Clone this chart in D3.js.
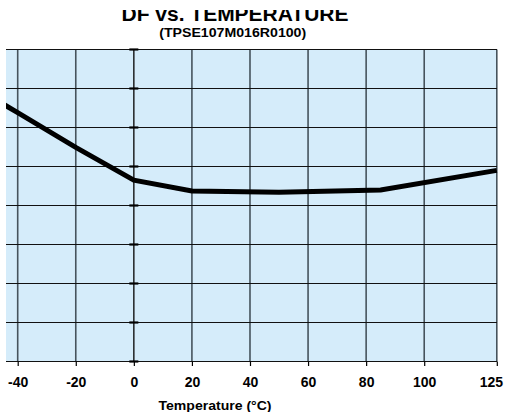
<!DOCTYPE html>
<html>
<head>
<meta charset="utf-8">
<script src="https://cdn.jsdelivr.net/npm/d3@7"></script>
<style>
  html, body { margin: 0; padding: 0; background: #fff; }
  svg { display: block; }
  text { font-family: "Liberation Sans", Arial, Helvetica, sans-serif; font-weight: bold; fill: #000; }
</style>
</head>
<body>
<svg id="chart" width="506" height="412"></svg>
<script>
// ---- data ----
const temperatures = [-55, -40, -20, 0, 20, 50, 85, 125];
const dfValues     = [7.04, 6.38, 5.49, 4.65, 4.37, 4.34, 4.40, 4.90];
const xTickValues  = [-40, -20, 0, 20, 40, 60, 80, 100, 125];
const xTickLabels  = ["-40", "-20", "0", "20", "40", "60", "80", "100", "125"];
const yGridValues  = [0, 1, 2, 3, 4, 5, 6, 7, 8];
const titleText    = "DF vs. TEMPERATURE";
const subtitleText = "(TPSE107M016R0100)";
const xAxisTitle   = "Temperature (\u00B0C)";

// ---- layout ----
const svg = d3.select("#chart");
const plotLeft = 6, plotRight = 497, plotTop = 49.5, plotBottom = 361.5;

const x = d3.scaleLinear().domain([-40, 125]).range([17.7, 496.8]);
const y = d3.scaleLinear().domain([0, 8]).range([plotBottom, plotTop]);

svg.append("defs").append("clipPath").attr("id", "plotClip")
  .append("rect").attr("x", plotLeft).attr("y", plotTop - 1)
  .attr("width", plotRight - plotLeft + 1).attr("height", plotBottom - plotTop + 2);
svg.select("defs").append("clipPath").attr("id", "titleClip")
  .append("rect").attr("x", 0).attr("y", 10).attr("width", 506).attr("height", 40);

// background
svg.append("rect")
  .attr("x", plotLeft).attr("y", plotTop)
  .attr("width", plotRight - plotLeft).attr("height", plotBottom - plotTop)
  .attr("fill", "#d5ecfa");

// vertical gridlines
svg.append("g").selectAll("line").data(xTickValues).join("line")
  .attr("x1", d => x(d)).attr("x2", d => x(d))
  .attr("y1", plotTop).attr("y2", plotBottom)
  .attr("stroke", d => d === 0 ? "#111" : "#46535c")
  .attr("stroke-width", d => d === 0 ? 1.4 : 1.6);

// horizontal gridlines
svg.append("g").selectAll("line").data(yGridValues).join("line")
  .attr("x1", plotLeft).attr("x2", plotRight)
  .attr("y1", d => y(d)).attr("y2", d => y(d))
  .attr("stroke", "#111").attr("stroke-width", 1.2);

// y-axis (0 °C) tick marks
svg.append("g").selectAll("line").data(yGridValues).join("line")
  .attr("x1", x(0) - 4.5).attr("x2", x(0) + 4.5)
  .attr("y1", d => y(d)).attr("y2", d => y(d))
  .attr("stroke", "#000").attr("stroke-width", 2.2);

// x-axis
const xAxis = d3.axisBottom(x).tickValues(xTickValues)
  .tickFormat((d, i) => xTickLabels[i]).tickSize(4.5).tickPadding(11);
const gx = svg.append("g").attr("transform", `translate(0,${plotBottom})`).call(xAxis);
gx.select(".domain").remove();
gx.selectAll(".tick line").attr("stroke", "#000").attr("stroke-width", 1.2);
gx.selectAll(".tick text")
  .attr("font-size", 14).attr("font-weight", "bold")
  .attr("font-family", "'Liberation Sans', Arial, sans-serif")
  .attr("fill", "#000")
  .attr("dx", d => d === 125 ? -6 : 0);

// curve
const line = d3.line().x((d, i) => x(temperatures[i])).y(d => y(d));
svg.append("path")
  .datum(dfValues)
  .attr("clip-path", "url(#plotClip)")
  .attr("d", line)
  .attr("fill", "none").attr("stroke", "#000")
  .attr("stroke-width", 5).attr("stroke-linejoin", "miter");

// titles
svg.append("text").attr("clip-path", "url(#titleClip)")
  .attr("x", 235).attr("y", 21).attr("text-anchor", "middle")
  .attr("font-size", 20).attr("textLength", 227).attr("lengthAdjust", "spacingAndGlyphs")
  .text(titleText);
svg.append("text")
  .attr("x", 232.7).attr("y", 37).attr("text-anchor", "middle")
  .attr("font-size", 12).attr("textLength", 147).attr("lengthAdjust", "spacingAndGlyphs")
  .text(subtitleText);
svg.append("text")
  .attr("x", 215).attr("y", 410).attr("text-anchor", "middle")
  .attr("font-size", 13.5).attr("textLength", 113).attr("lengthAdjust", "spacingAndGlyphs")
  .text(xAxisTitle);
</script>
</body>
</html>
